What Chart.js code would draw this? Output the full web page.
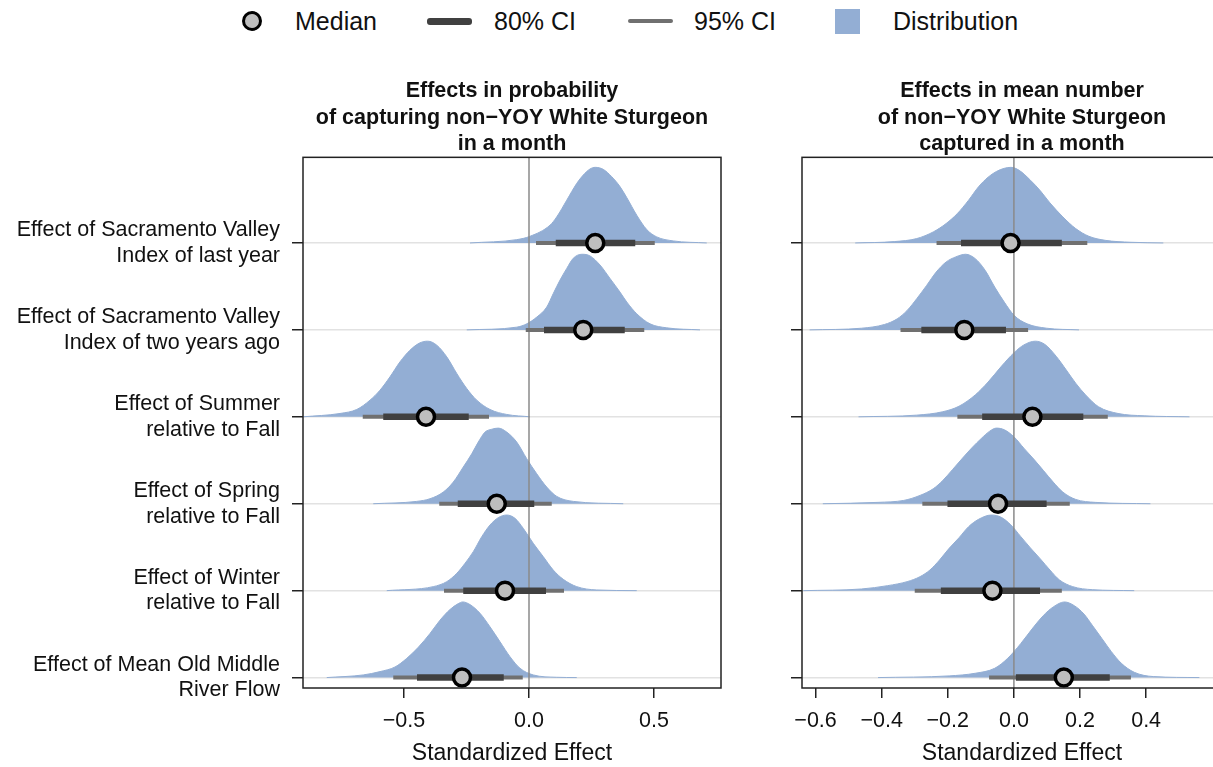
<!DOCTYPE html>
<html>
<head>
<meta charset="utf-8">
<script src="https://cdn.jsdelivr.net/npm/chart.js@4.4.1/dist/chart.umd.min.js"></script>
<style>
  html, body { margin: 0; padding: 0; background: #fff; overflow: hidden; width: 1213px; height: 767px; }
  #wrap { position: relative; width: 1213px; height: 767px; overflow: hidden; }
  #leftChart { position: absolute; left: 0; top: 0; }
  #rightChart { position: absolute; left: 745px; top: 0; }
  .lg { position: absolute; font: 25px "Liberation Sans", Arial, sans-serif; color: #111; top: 7px; line-height: 28px; }
  .lg-median { position: absolute; left: 242px; top: 11px; width: 20px; height: 20px; border-radius: 50%; background: #bebebe; border: 3.5px solid #000; box-sizing: border-box; }
  .lg-ci80 { position: absolute; left: 427px; top: 18px; width: 45px; height: 7px; border-radius: 3px; background: #404040; }
  .lg-ci95 { position: absolute; left: 628px; top: 19px; width: 45px; height: 4px; border-radius: 2px; background: #707070; }
  .lg-dist { position: absolute; left: 835px; top: 9px; width: 25px; height: 25px; background: #93aed4; }
</style>
</head>
<body>
<div id="wrap">
  <div class="lg-median"></div><div class="lg" style="left:295px">Median</div>
  <div class="lg-ci80"></div><div class="lg" style="left:494px">80% CI</div>
  <div class="lg-ci95"></div><div class="lg" style="left:694px">95% CI</div>
  <div class="lg-dist"></div><div class="lg" style="left:893px">Distribution</div>
  <canvas id="leftChart" width="745" height="767"></canvas>
  <canvas id="rightChart" width="509" height="767"></canvas>
</div>
<script>
// rows, top to bottom
const rowLabels = [
  ["Effect of Sacramento Valley", "Index of last year"],
  ["Effect of Sacramento Valley", "Index of two years ago"],
  ["Effect of Summer", "relative to Fall"],
  ["Effect of Spring", "relative to Fall"],
  ["Effect of Winter", "relative to Fall"],
  ["Effect of Mean Old Middle", "River Flow"],
];

// left panel: probability of capture
const probTitle = ["Effects in probability", "of capturing non\u2212YOY White Sturgeon", "in a month"];
const probTicks = [-0.5, 0, 0.5];
const probMedian = [0.265, 0.217, -0.412, -0.129, -0.096, -0.268];
const probCi80 = [[0.107, 0.425], [0.060, 0.383], [-0.583, -0.241], [-0.285, 0.021], [-0.263, 0.068], [-0.448, -0.101]];
const probCi95 = [[0.028, 0.503], [-0.013, 0.461], [-0.665, -0.160], [-0.359, 0.091], [-0.340, 0.140], [-0.543, -0.025]];
// density outline: [effect, relative height]
const probDensity = [
  [[-0.236,0],[-0.049,0.044],[0.004,0.088],[0.084,0.235],[0.111,0.345],[0.151,0.566],[0.191,0.788],[0.217,0.898],[0.244,0.978],[0.265,1],[0.297,0.973],[0.331,0.876],[0.364,0.745],[0.391,0.6],[0.431,0.367],[0.471,0.177],[0.511,0.08],[0.577,0.027],[0.711,0]],
  [[-0.249,0],[-0.049,0.036],[-0.009,0.08],[0.031,0.169],[0.071,0.302],[0.097,0.48],[0.124,0.658],[0.151,0.813],[0.177,0.947],[0.212,1],[0.244,0.978],[0.284,0.858],[0.324,0.68],[0.364,0.5],[0.391,0.369],[0.431,0.213],[0.484,0.08],[0.551,0.027],[0.684,0]],
  [[-0.903,0],[-0.756,0.044],[-0.689,0.097],[-0.636,0.22],[-0.596,0.352],[-0.556,0.529],[-0.516,0.727],[-0.476,0.881],[-0.436,0.978],[-0.405,1],[-0.369,0.947],[-0.329,0.793],[-0.289,0.573],[-0.249,0.374],[-0.209,0.22],[-0.156,0.097],[-0.089,0.031],[0.004,0]],
  [[-0.623,0],[-0.449,0.031],[-0.396,0.066],[-0.343,0.154],[-0.303,0.286],[-0.263,0.485],[-0.229,0.66],[-0.203,0.815],[-0.176,0.947],[-0.149,0.985],[-0.123,1],[-0.089,0.947],[-0.049,0.815],[-0.009,0.595],[0.031,0.396],[0.071,0.22],[0.111,0.097],[0.177,0.031],[0.377,0]],
  [[-0.569,0],[-0.383,0.053],[-0.329,0.119],[-0.289,0.229],[-0.256,0.361],[-0.223,0.515],[-0.189,0.714],[-0.156,0.868],[-0.123,0.965],[-0.089,1],[-0.056,0.956],[-0.023,0.824],[0.017,0.626],[0.057,0.45],[0.097,0.273],[0.137,0.15],[0.191,0.053],[0.271,0.009],[0.431,0]],
  [[-0.809,0],[-0.663,0.035],[-0.596,0.079],[-0.536,0.14],[-0.489,0.254],[-0.443,0.4],[-0.396,0.583],[-0.356,0.759],[-0.316,0.9],[-0.283,0.978],[-0.265,1],[-0.236,0.965],[-0.196,0.85],[-0.156,0.671],[-0.116,0.474],[-0.076,0.276],[-0.036,0.123],[0.017,0.035],[0.111,0.004],[0.191,0]],
];

// right panel: mean number captured
const countTitle = ["Effects in mean number", "of non\u2212YOY White Sturgeon", "captured in a month"];
const countTicks = [-0.6, -0.4, -0.2, 0, 0.2, 0.4];
const countMedian = [-0.010, -0.150, 0.056, -0.048, -0.065, 0.151];
const countCi80 = [[-0.160, 0.145], [-0.280, -0.024], [-0.096, 0.210], [-0.201, 0.099], [-0.221, 0.079], [0.006, 0.290]];
const countCi95 = [[-0.234, 0.222], [-0.343, 0.043], [-0.171, 0.284], [-0.277, 0.169], [-0.300, 0.145], [-0.075, 0.354]];
const countDensity = [
  [[-0.48,0],[-0.362,0.018],[-0.294,0.058],[-0.244,0.146],[-0.205,0.257],[-0.171,0.389],[-0.137,0.566],[-0.107,0.743],[-0.078,0.87],[-0.053,0.945],[-0.029,0.987],[-0.009,1],[0.016,0.96],[0.05,0.83],[0.08,0.69],[0.109,0.53],[0.148,0.345],[0.187,0.19],[0.227,0.088],[0.276,0.035],[0.354,0.009],[0.452,0]],
  [[-0.618,0],[-0.461,0.022],[-0.392,0.071],[-0.353,0.146],[-0.323,0.257],[-0.294,0.412],[-0.264,0.588],[-0.235,0.765],[-0.205,0.898],[-0.176,0.965],[-0.146,1],[-0.117,0.942],[-0.087,0.788],[-0.058,0.566],[-0.029,0.367],[0.001,0.19],[0.04,0.08],[0.099,0.022],[0.197,0]],
  [[-0.47,0],[-0.294,0.022],[-0.215,0.067],[-0.166,0.14],[-0.117,0.289],[-0.078,0.46],[-0.038,0.667],[0.001,0.85],[0.03,0.95],[0.065,1],[0.094,0.956],[0.128,0.8],[0.158,0.622],[0.187,0.444],[0.217,0.289],[0.256,0.133],[0.315,0.044],[0.394,0.013],[0.531,0]],
  [[-0.578,0],[-0.411,0.018],[-0.333,0.044],[-0.284,0.11],[-0.244,0.198],[-0.215,0.308],[-0.186,0.45],[-0.156,0.6],[-0.127,0.74],[-0.097,0.87],[-0.073,0.96],[-0.053,1],[-0.029,0.978],[0.001,0.881],[0.03,0.735],[0.06,0.59],[0.089,0.441],[0.119,0.286],[0.148,0.154],[0.187,0.057],[0.246,0.018],[0.413,0]],
  [[-0.637,0],[-0.461,0.022],[-0.382,0.066],[-0.323,0.119],[-0.284,0.185],[-0.254,0.273],[-0.225,0.405],[-0.196,0.559],[-0.166,0.7],[-0.137,0.846],[-0.107,0.943],[-0.068,1],[-0.038,0.969],[-0.009,0.868],[0.021,0.714],[0.05,0.565],[0.08,0.42],[0.109,0.273],[0.138,0.141],[0.178,0.053],[0.237,0.013],[0.364,0]],
  [[-0.411,0],[-0.196,0.022],[-0.117,0.057],[-0.058,0.123],[-0.019,0.254],[0.021,0.451],[0.06,0.671],[0.089,0.82],[0.119,0.934],[0.153,1],[0.183,0.95],[0.212,0.84],[0.237,0.693],[0.266,0.518],[0.295,0.342],[0.325,0.189],[0.364,0.07],[0.423,0.013],[0.561,0]],
];

const FONT = '"Liberation Sans", Arial, sans-serif';
const DIST_COLOR = '#93aed4';
const RIDGE = 0.87;      // peak height of a ridge, in row units
const Y_MIN = -0.12;
const Y_MAX = 5.985;
const nRows = rowLabels.length;

Chart.defaults.font.family = FONT;
Chart.defaults.color = '#111';

const rowY = (i) => nRows - 1 - i;
const fmt = (v) => v.toFixed(1).replace('-', '\u2212');

// box around the plotting area
const framePlugin = {
  id: 'frame',
  afterDraw(chart) {
    const { ctx, chartArea: a } = chart;
    ctx.save();
    ctx.strokeStyle = '#222';
    ctx.lineWidth = 1.5;
    ctx.strokeRect(a.left, a.top, a.right - a.left, a.bottom - a.top);
    ctx.restore();
  },
};

function buildDatasets(median, ci80, ci95, density) {
  const sets = [];
  density.forEach((pts, i) => {
    const base = rowY(i);
    sets.push({
      data: pts.map(([x, h]) => ({ x, y: base + h * RIDGE })),
      showLine: true,
      fill: { value: base },
      backgroundColor: DIST_COLOR,
      borderColor: DIST_COLOR,
      borderWidth: 1,
      pointRadius: 0,
      cubicInterpolationMode: 'monotone',
      order: 5,
    });
  });
  sets.push({
    data: [{ x: 0, y: Y_MIN }, { x: 0, y: Y_MAX }],
    showLine: true,
    borderColor: '#8a8a8a',
    borderWidth: 1.5,
    pointRadius: 0,
    order: 4,
  });
  ci95.forEach(([lo, hi], i) => {
    sets.push({
      data: [{ x: lo, y: rowY(i) }, { x: hi, y: rowY(i) }],
      showLine: true,
      borderColor: '#707070',
      borderWidth: 4,
      borderCapStyle: 'butt',
      pointRadius: 0,
      order: 3,
    });
  });
  ci80.forEach(([lo, hi], i) => {
    sets.push({
      data: [{ x: lo, y: rowY(i) }, { x: hi, y: rowY(i) }],
      showLine: true,
      borderColor: '#404040',
      borderWidth: 6.5,
      borderCapStyle: 'butt',
      pointRadius: 0,
      order: 2,
    });
  });
  sets.push({
    data: median.map((m, i) => ({ x: m, y: rowY(i) })),
    pointRadius: 8.5,
    pointBackgroundColor: '#bebebe',
    pointBorderColor: '#000',
    pointBorderWidth: 3.5,
    order: 1,
  });
  return sets;
}

function buildOptions(title, xMin, xMax, xTicks, showLabels, yWidth, padRight) {
  return {
    responsive: false,
    animation: false,
    layout: { padding: { left: 0, right: padRight, top: 0, bottom: 0 } },
    plugins: {
      legend: { display: false },
      tooltip: { enabled: false },
      title: {
        display: true,
        text: title,
        fullSize: false,
        color: '#111',
        font: { size: 21.5, weight: 'bold', lineHeight: 1.23 },
        padding: { top: 78, bottom: 0 },
      },
    },
    scales: {
      x: {
        type: 'linear',
        min: xMin,
        max: xMax,
        afterBuildTicks: (s) => { s.ticks = xTicks.map((v) => ({ value: v })); },
        ticks: { callback: (v) => fmt(v), font: { size: 21.5 }, color: '#111', padding: 10, maxRotation: 0, autoSkip: false },
        grid: { drawOnChartArea: false, tickLength: 10, tickColor: '#222', lineWidth: 1.5 },
        border: { display: false },
        title: { display: true, text: 'Standardized Effect', font: { size: 23 }, color: '#111', padding: { top: 0, bottom: 0 } },
        afterFit: (s) => { s.height = 79; },
      },
      y: {
        type: 'linear',
        min: Y_MIN,
        max: Y_MAX,
        afterBuildTicks: (s) => { s.ticks = rowLabels.map((_, i) => ({ value: rowY(i) })); },
        ticks: {
          callback: (v) => (showLabels ? rowLabels[nRows - 1 - v] : ''),
          font: { size: 21.5, lineHeight: 1.2 },
          color: '#111',
          padding: 12,
          autoSkip: false,
        },
        grid: { color: '#e2e2e2', tickColor: '#222', tickLength: 11, lineWidth: 1.5 },
        border: { display: false },
        afterFit: (s) => { s.width = yWidth; },
      },
    },
  };
}

new Chart(document.getElementById('leftChart'), {
  type: 'scatter',
  data: { datasets: buildDatasets(probMedian, probCi80, probCi95, probDensity) },
  options: buildOptions(probTitle, -0.904, 0.768, probTicks, true, 303, 24),
  plugins: [framePlugin],
});

new Chart(document.getElementById('rightChart'), {
  type: 'scatter',
  data: { datasets: buildDatasets(countMedian, countCi80, countCi95, countDensity) },
  options: buildOptions(countTitle, -0.641, 0.690, countTicks, false, 57, 0),
  plugins: [framePlugin],
});
</script>
</body>
</html>
